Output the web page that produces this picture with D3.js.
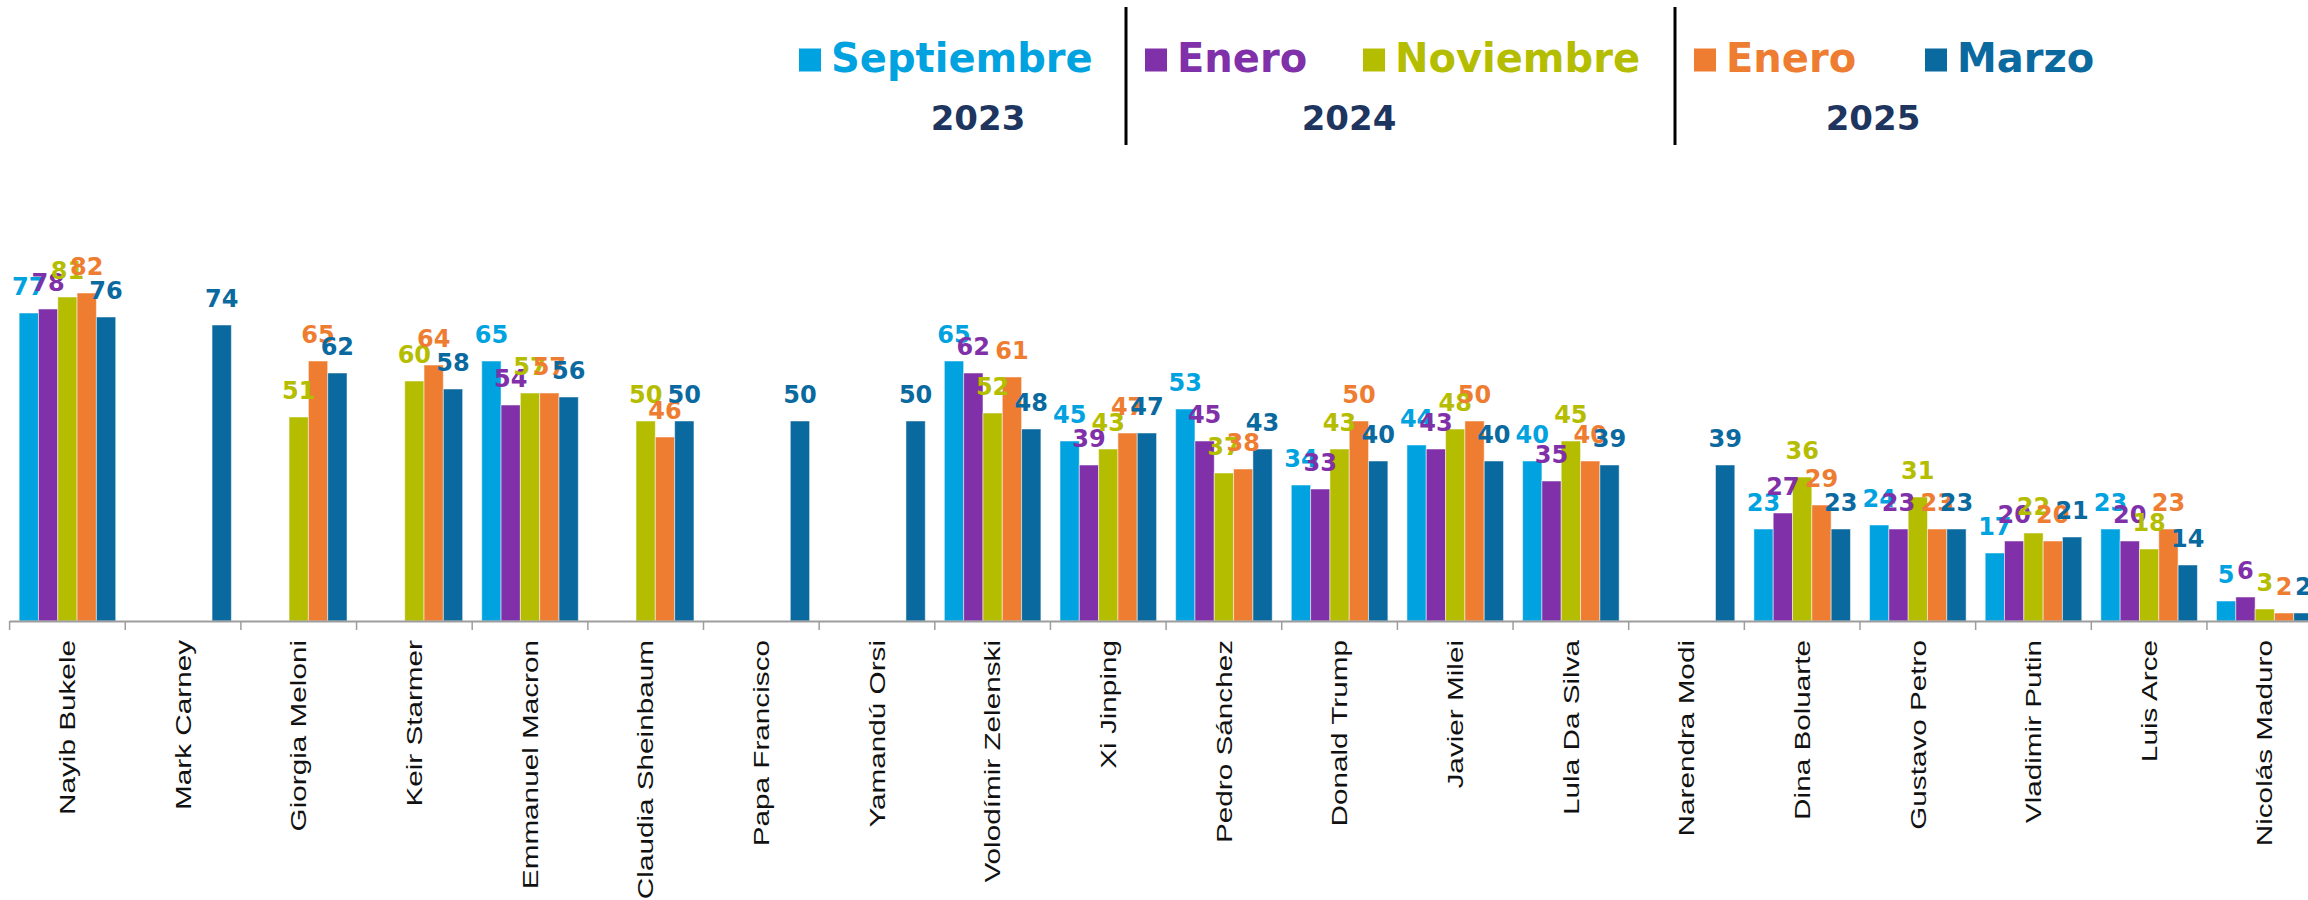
<!DOCTYPE html>
<html>
<head>
<meta charset="utf-8">
<script src="https://cdn.jsdelivr.net/npm/d3@7"></script>
<style>
  html, body { margin: 0; padding: 0; background: #fff; }
  svg { display: block; overflow: hidden; }
</style>
</head>
<body>
<div id="chart"></div>
<script>
// leaders, sorted by the March 2025 value
const leaders = ["Nayib Bukele", "Mark Carney", "Giorgia Meloni", "Keir Starmer", "Emmanuel Macron",
    "Claudia Sheinbaum", "Papa Francisco", "Yamandú Orsi", "Volodímir Zelenski", "Xi Jinping",
    "Pedro Sánchez", "Donald Trump", "Javier Milei", "Lula Da Silva", "Narendra Modi",
    "Dina Boluarte", "Gustavo Petro", "Vladimir Putin", "Luis Arce", "Nicolás Maduro"];

const waves = ["sep2023", "ene2024", "nov2024", "ene2025", "mar2025"];

const sep2023 = [77, null, null, null, 65, null, null, null, 65, 45, 53, 34, 44, 40, null, 23, 24, 17, 23, 5];
const ene2024 = [78, null, null, null, 54, null, null, null, 62, 39, 45, 33, 43, 35, null, 27, 23, 20, 20, 6];
const nov2024 = [81, null, 51, 60, 57, 50, null, null, 52, 43, 37, 43, 48, 45, null, 36, 31, 22, 18, 3];
const ene2025 = [82, null, 65, 64, 57, 46, null, null, 61, 47, 38, 50, 50, 40, null, 29, 23, 20, 23, 2];
const mar2025 = [76, 74, 62, 58, 56, 50, 50, 50, 48, 47, 43, 40, 40, 39, 39, 23, 23, 21, 14, 2];

const legendMonths = ["Septiembre", "Enero", "Noviembre", "Enero", "Marzo"];
const legendYears = ["2023", "2024", "2025"];

const colors = ["#00a3e0", "#8030a8", "#b5bd00", "#ee7d31", "#0a699e"];

const seriesValues = [sep2023, ene2024, nov2024, ene2025, mar2025];

const width = 2308, height = 900;
const baseY = 621;

const svg = d3.select("#chart")
    .append("svg")
    .attr("width", width)
    .attr("height", height);

svg.append("rect").attr("width", width).attr("height", height).attr("fill", "#fff");

// the plot runs past the right edge, like in the original
const x = d3.scaleBand()
    .domain(leaders)
    .range([9.6, 9.6 + 20 * 115.65])
    .paddingInner(0.165)
    .paddingOuter(0.0825);

const xs = d3.scaleBand()
    .domain(waves)
    .range([0, x.bandwidth()]);

const y = d3.scaleLinear()
    .domain([0, 100])
    .range([baseY, baseY - 400]);

const rows = leaders.map((name, i) => ({
    name: name,
    values: waves.map((w, j) => ({wave: w, idx: j, value: seriesValues[j][i]}))
        .filter(d => d.value !== null)
}));

const groups = svg.selectAll(".leader")
    .data(rows)
    .enter().append("g")
    .attr("class", "leader")
    .attr("transform", d => `translate(${x(d.name)},0)`);

groups.selectAll("rect")
    .data(d => d.values)
    .enter().append("rect")
    .attr("x", d => xs(d.wave))
    .attr("y", d => y(d.value))
    .attr("width", xs.bandwidth())
    .attr("height", d => y(0) - y(d.value))
    .attr("fill", d => colors[d.idx])
    .attr("stroke", "#ffffff")
    .attr("stroke-opacity", 0.5)
    .attr("stroke-width", 1);

groups.selectAll("text")
    .data(d => d.values)
    .enter().append("text")
    .attr("x", d => xs(d.wave) + xs.bandwidth() / 2)
    .attr("y", d => y(d.value) - 18)
    .attr("text-anchor", "middle")
    .style("font-family", "'DejaVu Sans', sans-serif")
    .style("font-weight", "bold")
    .style("font-size", "24px")
    .attr("fill", d => colors[d.idx])
    .text(d => d.value);

// x axis: labels at centres, ticks at the category edges
const axis = svg.append("g")
    .attr("transform", `translate(0,${baseY})`)
    .call(d3.axisBottom(x).tickSize(0));

axis.select(".domain").remove();

axis.selectAll(".tick text")
    .attr("x", 0)
    .attr("y", 0)
    .attr("dy", "0.35em")
    .attr("text-anchor", "end")
    .attr("transform", "translate(0,19) rotate(-90) scale(1.35,1)")
    .style("font-family", "'Liberation Sans', Arial, sans-serif")
    .style("font-size", "22px")
    .attr("fill", "#111");

svg.append("line")
    .attr("x1", x.range()[0])
    .attr("x2", width)
    .attr("y1", baseY + 0.5)
    .attr("y2", baseY + 0.5)
    .attr("stroke", "#9d9d9d")
    .attr("stroke-width", 2);

svg.selectAll(".edge")
    .data(leaders)
    .enter().append("line")
    .attr("class", "edge")
    .attr("x1", d => x(d) - x.step() * x.paddingOuter())
    .attr("x2", d => x(d) - x.step() * x.paddingOuter())
    .attr("y1", baseY)
    .attr("y2", baseY + 9)
    .attr("stroke", "#9d9d9d")
    .attr("stroke-width", 1.5);

// legend
const legendX = [799, 1145, 1363, 1694, 1925];

const legend = svg.selectAll(".legend")
    .data(legendMonths)
    .enter().append("g")
    .attr("class", "legend")
    .attr("transform", (d, i) => `translate(${legendX[i]},0)`);

legend.append("rect")
    .attr("x", 0)
    .attr("y", 48.5)
    .attr("width", 22)
    .attr("height", 23)
    .attr("fill", (d, i) => colors[i]);

legend.append("text")
    .attr("x", 32)
    .attr("y", 71.5)
    .style("font-family", "'DejaVu Sans', sans-serif")
    .style("font-weight", "bold")
    .style("font-size", "40px")
    .attr("fill", (d, i) => colors[i])
    .text(d => d);

const yearX = [978, 1349, 1873];

svg.selectAll(".year")
    .data(legendYears)
    .enter().append("text")
    .attr("class", "year")
    .attr("x", (d, i) => yearX[i])
    .attr("y", 129.5)
    .attr("text-anchor", "middle")
    .style("font-family", "'DejaVu Sans', sans-serif")
    .style("font-weight", "bold")
    .style("font-size", "34px")
    .attr("fill", "#1d355f")
    .text(d => d);

[1126, 1675].forEach(sx => {
    svg.append("line")
        .attr("x1", sx).attr("x2", sx)
        .attr("y1", 7).attr("y2", 145)
        .attr("stroke", "#000")
        .attr("stroke-width", 3);
});
</script>
</body>
</html>
